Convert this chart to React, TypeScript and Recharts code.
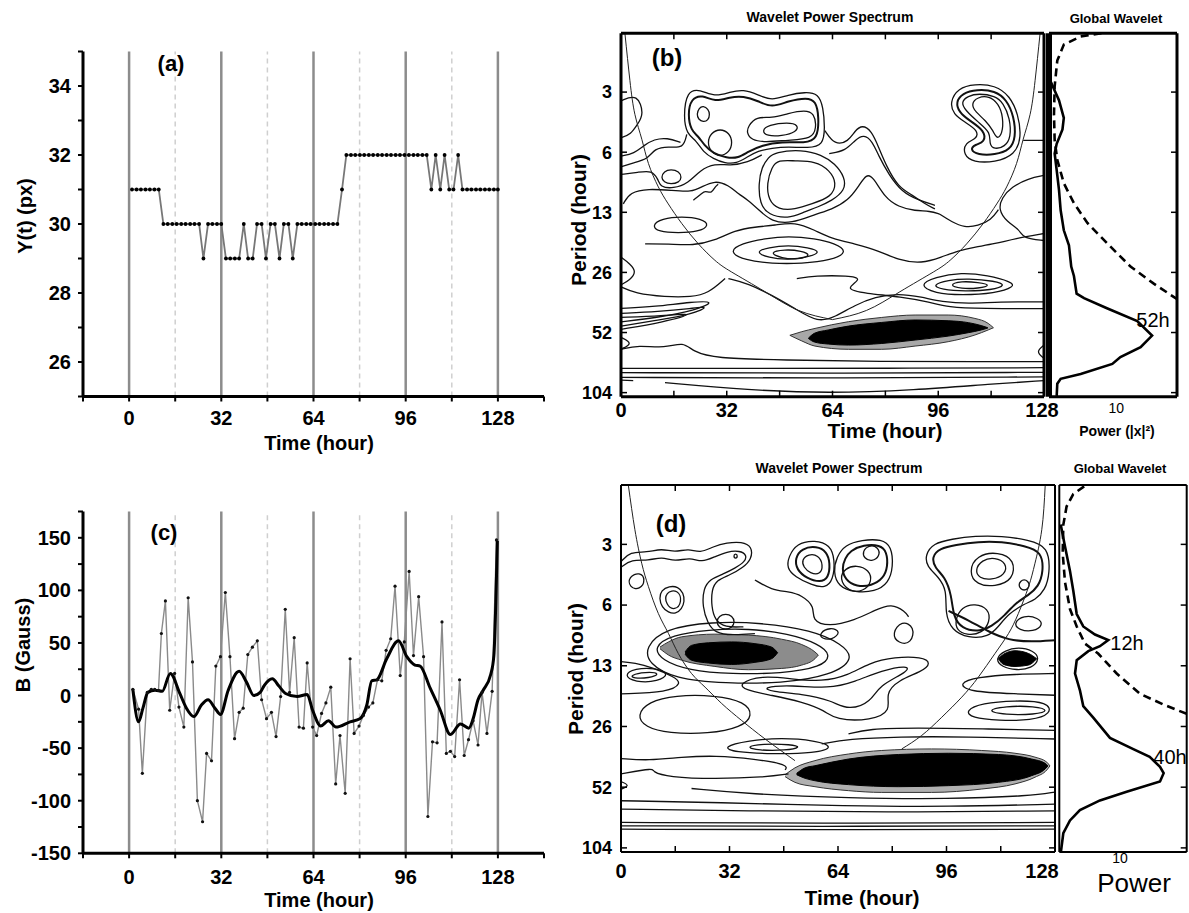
import React from 'react';
import { ComposedChart, Line, Area, XAxis, YAxis, ReferenceLine } from 'recharts';

type Pt = [number, number];
type Band = [number, number, number];

// ---------- (a) position series ----------
const A_TIME = [1, 2.6, 4.1, 5.7, 7.2, 8.8, 10.3, 11.9, 13.4, 15, 16.5, 18.1, 19.6, 21.2, 22.7, 24.3, 25.8, 27.4, 28.9, 30.5, 32, 33.6, 35.1, 36.7, 38.2, 39.8, 41.3, 42.9, 44.4, 46, 47.5, 49.1, 50.6, 52.2, 53.7, 55.3, 56.8, 58.4, 59.9, 61.5, 63, 64.6, 66.1, 67.7, 69.2, 70.8, 72.3, 73.9, 75.4, 77, 78.5, 80.1, 81.6, 83.2, 84.7, 86.3, 87.8, 89.4, 90.9, 92.5, 94, 95.6, 97.1, 98.7, 100.2, 101.8, 103.3, 104.9, 106.4, 108, 109.5, 111.1, 112.6, 114.2, 115.7, 117.3, 118.8, 120.4, 121.9, 123.5, 125, 126.6, 128];
const A_Y = [31, 31, 31, 31, 31, 31, 31, 30, 30, 30, 30, 30, 30, 30, 30, 30, 29, 30, 30, 30, 30, 29, 29, 29, 29, 30, 29, 29, 30, 30, 29, 30, 30, 29, 30, 30, 29, 30, 30, 30, 30, 30, 30, 30, 30, 30, 30, 31, 32, 32, 32, 32, 32, 32, 32, 32, 32, 32, 32, 32, 32, 32, 32, 32, 32, 32, 32, 31, 32, 31, 32, 31, 31, 32, 31, 31, 31, 31, 31, 31, 31, 31, 31];
const A_Y_TICKS = [25, 26, 27, 28, 29, 30, 31, 32, 33, 34, 35];
const A_Y_LABELS = [26, 28, 30, 32, 34];

// ---------- (c) magnetic field series ----------
const C_TIME = [1.3, 3.3, 4.6, 6.3, 7.7, 8.9, 10.2, 11.2, 12.6, 14.1, 15.8, 17.3, 19, 20.5, 22, 23.7, 25.5, 26.9, 28.6, 30.1, 31.7, 33.4, 35, 36.6, 38.2, 39.6, 41.2, 42.8, 44.5, 46, 47.7, 49.4, 51, 52.6, 54.2, 55.7, 57.3, 59, 60.5, 61.8, 63.7, 65.1, 66.8, 68.3, 70, 71.7, 73.2, 75, 76.7, 78.1, 79.8, 81.3, 83.1, 84.6, 86.2, 87.7, 89.2, 90.8, 92.3, 94.1, 95.5, 97.2, 98.7, 100.5, 102.2, 103.7, 105.3, 106.9, 108.6, 110.1, 111.5, 113, 114.7, 116.3, 117.8, 119.4, 121.1, 122.5, 124.2, 126, 127.5];
const C_B = [6, -13, -74, 3, 6, 6, 5, 59, 90, -14, 21, -11, -30, 93, 32, -100, -120, -55, -62, 28, 37, 98, 37, -41, -16, -12, 39, 46, 52, -4, -22, -16, -39, -1, 82, 3, 55, -30, -31, 31, -30, -38, -17, -7, 8, -84, -38, -93, 35, -36, -29, -19, -11, -7, 15, 14, 43, 54, 104, 19, 51, 118, 38, 94, 37, -115, -44, -45, 70, -55, -53, -58, 15, -57, -42, -24, -47, 3, -36, 4, 148];
const C_SMOOTH_TIME = [1.3, 3.3, 4.8, 6.5, 9, 11.5, 14.3, 17.6, 19.9, 22.5, 25.1, 27.4, 29.8, 31.7, 34.4, 38.2, 40.7, 43.3, 45.5, 47, 49.7, 52, 54.3, 58.3, 61.8, 63.7, 66.5, 69.2, 71.8, 76.7, 80.1, 82.5, 84.2, 86, 89.4, 93.5, 96.4, 99.2, 101, 104.5, 108, 111.5, 115, 117.9, 119.4, 121.1, 122.9, 125.5, 126.6, 127.8];
const C_SMOOTH_B = [6, -25, -12, 3, 5, 4, 21, 2, -12, -20, -9, -4, -12, -18, 5, 23, 13, 0, 3, 10, 16, 9, 2, -1, 1, -14, -29, -24, -30, -25, -22, -9, 14, 15, 35, 52, 37, 29, 28, 7, -14, -37, -27, -31, -22, -4, 5, 20, 38, 147];
const C_Y_TICKS = [-150, -125, -100, -75, -50, -25, 0, 25, 50, 75, 100, 125, 150, 175];
const C_Y_LABELS = [-150, -100, -50, 0, 50, 100, 150];

const TIME_TICKS = [-16, 0, 16, 32, 48, 64, 80, 96, 112, 128, 144];
const TIME_LABELS = [0, 32, 64, 96, 128];
const SOLID_GRID = [0, 32, 64, 96, 128];
const DASH_GRID = [16, 48, 80, 112];

// ---------- wavelet axes ----------
const PERIOD_TICKS = [3.25, 6.5, 13, 26, 52, 104];
const PERIOD_LABELS = ['3', '6', '13', '26', '52', '104'];
const PERIOD_DOMAIN: [number, number] = [1.65, 109];
const WAVE_TIME_LABELS = [0, 32, 64, 96, 128];
const WAVE_TIME_MINOR = [16, 32, 48, 64, 80, 96, 112];

// ---------- (b) contours [time, period] ----------
const B_C1: Pt[] = [[19.9, 3.2], [23.9, 3.15], [28.4, 3.44], [33, 3.25], [37, 3.15], [41.5, 3.35], [45.6, 3.6], [50.6, 3.35], [55.7, 3.25], [59.7, 3.3], [61.2, 3.87], [61.7, 4.9], [61.2, 6], [56.7, 6.2], [50.6, 6.1], [45.6, 6.2], [41.5, 6.4], [38, 6.9], [35, 7.4], [31.5, 7.4], [27.9, 7], [24.9, 6.5], [22.9, 5.7], [19.9, 5.27], [18.9, 4.34]];
const B_C2: Pt[] = [[21.2, 3.5], [24.6, 3.35], [28.4, 3.65], [33, 3.44], [37, 3.4], [41.5, 3.6], [45.6, 3.9], [50.6, 3.6], [56.2, 3.46], [59, 3.6], [59.9, 4.34], [59.5, 5.6], [55.7, 5.85], [48.6, 5.75], [42.6, 6], [38.5, 6.45], [35.5, 6.95], [32, 6.95], [27.9, 6.6], [25.2, 6], [23.4, 5.4], [21.2, 5.07], [20.2, 4.2]];
const B_C3: Pt[] = [[22.9, 4.2], [23.6, 3.9], [24.9, 3.8], [26.4, 3.95], [26.9, 4.2], [26.4, 4.5], [24.9, 4.6], [23.4, 4.45]];
const B_C4: Pt[] = [[26.1, 5.8], [27.2, 5.2], [30, 4.95], [32.8, 5.2], [33.8, 5.8], [32.8, 6.5], [30, 6.85], [27.2, 6.5]];
const B_C5: Pt[] = [[38.5, 4.8], [41, 4.3], [45.6, 4.4], [50.6, 4.15], [55.7, 4], [58.5, 4.15], [59.2, 4.9], [57.7, 5.6], [50.6, 5.65], [43.6, 5.8], [39.5, 5.65], [38, 5.2]];
const B_C6: Pt[] = [[42.6, 5.07], [44.6, 4.75], [50.6, 4.6], [53.7, 4.75], [53.2, 5.15], [48.6, 5.4], [44.1, 5.4]];
const B_C7: Pt[] = [[99.5, 3.65], [102, 3.1], [107, 2.96], [113.2, 3], [117.7, 3.4], [120.2, 4.2], [121.2, 5.48], [119.2, 6.7], [113.2, 7.3], [106.6, 7.3], [103.6, 6.7], [104.1, 5.8], [107.6, 5.6], [108.1, 5.07], [104.1, 4.6], [100.6, 4.2]];
const B_C8: Pt[] = [[101.3, 3.65], [103.3, 3.3], [107.6, 3.15], [113.2, 3.2], [116.7, 3.55], [118.9, 4.3], [119.5, 5.48], [117.7, 6.35], [113.2, 6.7], [107.9, 6.7], [105.6, 6.3], [107.1, 5.95], [110.1, 5.8], [110.1, 5.07], [105.3, 4.5], [102.3, 4.1]];
const B_C9: Pt[] = [[102.9, 3.65], [104.9, 3.4], [108.3, 3.3], [113.2, 3.4], [115.7, 3.68], [117.7, 4.4], [118, 5.48], [116.2, 6.1], [112.9, 6.3], [111.4, 5.92], [111.9, 5.17], [108.1, 4.6], [104.1, 4]];
const B_C10: Pt[] = [[105.9, 3.72], [107.9, 3.44], [111.4, 3.4], [114.2, 3.7], [115.7, 4.34], [115.4, 5.3], [113.7, 5.6], [112.7, 5.1], [110.3, 4.5], [107.3, 4.1]];
const B_BLOB1: Pt[] = [[46.6, 6.5], [44.6, 6.9], [42.6, 7.7], [41.6, 9.3], [42, 11.8], [44.6, 13.4], [50.6, 14], [55.2, 13], [59.7, 12.2], [63.7, 11.4], [67.8, 10.1], [67.8, 8.7], [64.7, 7.4], [60.7, 6.7], [54.7, 6.3]];
const B_BLOB2: Pt[] = [[47.6, 7.1], [45.6, 7.7], [44.1, 9.3], [44.6, 11.3], [47.6, 12.6], [52.6, 12.6], [57.7, 11.8], [63.7, 10.9], [65.3, 9.3], [63.2, 8], [58.7, 7.2], [52.6, 7.2]];
const B_OVAL1: Pt[] = [[12.1, 8.7], [13, 8.1], [15.1, 7.9], [17.6, 8.1], [18.4, 8.7], [17.6, 9.2], [15.1, 9.4], [13, 9.2]];
const B_OVAL2: Pt[] = [[9.3, 15.1], [12.3, 14], [18.4, 13.6], [24.4, 14], [26.9, 15.1], [23.4, 16.3], [17.3, 16.5], [11.3, 16.3]];
const B_EYE1: Pt[] = [[32.5, 20.5], [36.5, 18.6], [43.6, 17.6], [50.6, 17.1], [58.7, 17.6], [64.7, 18.6], [68.8, 20.5], [63.7, 22.6], [54.7, 23.5], [45.6, 23.5], [37.5, 22.6]];
const B_EYE2: Pt[] = [[40.5, 20.5], [44.6, 19.5], [50.6, 19], [56.7, 19.5], [60.7, 20.5], [56.7, 21.8], [50.6, 22.5], [44.6, 22]];
const B_EYE3: Pt[] = [[44.6, 20.7], [49.6, 19.9], [54.7, 20.3], [57.7, 21.3], [53.7, 22.4], [48.6, 22.1]];
const B_EYE4: Pt[] = [[90, 30.1], [95, 27.4], [103, 26], [111, 26.9], [118.2, 29], [119.2, 30.7], [113.2, 33.1], [103, 33.8], [95, 33.1]];
const B_EYE5: Pt[] = [[94, 30.1], [99, 28.4], [105, 27.9], [113.2, 28.7], [116.7, 30.1], [112.2, 31.9], [104.1, 32.3], [97, 31.7]];
const B_EYE6: Pt[] = [[99, 30.1], [103, 28.7], [108.1, 29.2], [112.2, 30.1], [108.1, 31.3], [103, 31.4]];

const B_LA: Pt[] = [[0, 7.7], [3.7, 7.36], [8.3, 7], [10.1, 6.24], [14.3, 6.07], [18.9, 6.24], [19.9, 5.29]];
const B_LB: Pt[] = [[0, 8.4], [5.2, 8.2], [9.3, 8], [11.3, 8.9], [11.8, 9.7], [15.8, 9.9], [20.4, 9.3], [23.9, 8], [28.4, 7.4], [33, 7.6], [38.5, 7.3], [42.6, 6.7]];
const B_LD: Pt[] = [[0.7, 11.8], [2.7, 10.3], [8.3, 9.9], [15.3, 10.1], [21.4, 10.3], [24.4, 9.7], [28.4, 9], [32.5, 9.5], [35.5, 10.5], [38.5, 11.3], [41.6, 12.6], [45.6, 14.5], [51.6, 14.8], [58.7, 13.3], [63.7, 12.6], [68.8, 11.3], [71.8, 9.7], [74.3, 8.3], [76.4, 8.7], [79.9, 11], [83.9, 12.2], [89, 12.8], [93.5, 12.8], [96.5, 13.3]];
const B_PEAK: Pt[] = [[61.7, 5.07], [64.7, 6], [68.8, 5.75], [70.8, 5.07], [73, 4.74], [75.8, 5.07], [77.9, 6.1], [80.4, 7.7], [83.9, 9.7], [87.9, 10.6], [92, 11.8], [95, 12.5]];
const B_PEAK2: Pt[] = [[63, 6.6], [68, 6.4], [71, 5.6], [73.5, 5.3], [76, 5.7], [78, 6.8], [81, 8.4], [85, 10.3], [90, 11.3], [95, 12]];
const B_M1: Pt[] = [[7.3, 18.7], [14.3, 18.7], [21.9, 19.1], [28.4, 18], [34.5, 16], [40.5, 15.4], [46.6, 15.1], [52.6, 14.5], [58.7, 16], [63.7, 17.6], [70.8, 18.7], [77.9, 20.2], [83.9, 22.6], [91, 23.5], [97, 21.8], [102.1, 20.2], [107.1, 19.4], [113.2, 18.7], [119.2, 17.6], [128, 16.6]];
const B_M2: Pt[] = [[32.5, 27.9], [38.5, 29.5], [45.6, 33.8], [52.6, 39.4], [59.7, 46.4], [64.7, 43.5], [70.8, 37.9], [76.9, 34.5], [83.9, 33.1], [91, 34.5], [97, 36.5], [105.1, 37.3], [114.2, 36.5], [128, 36.5]];
const B_M3: Pt[] = [[53.2, 27.9], [58.7, 27], [68.8, 27], [73.3, 27.9], [67.3, 31.6], [74, 33.1], [84.9, 34.5], [93, 36.5], [99, 38.9], [109.1, 39.5], [128, 39.5]];
const B_M4: Pt[] = [[0, 30.7], [4.2, 33.1], [13.3, 34.5], [21.4, 34.5], [26.4, 33.1], [31.5, 27.9]];
const B_EDGE1: Pt[] = [[0, 21.8], [2.7, 23.5], [4.7, 25.8], [2.7, 28.4], [0, 30]];
const B_EDGE4: Pt[] = [[0, 3.6], [5, 3.3], [7, 4.2], [5, 4.7], [3, 5.3], [0, 5.5]];
const B_EDGE5: Pt[] = [[0, 6.8], [4, 6.6], [7, 6], [10, 5.6], [14, 5.5], [18, 5.8]];
const B_T1: Pt[] = [[0, 39.4], [10.3, 38.6], [21.4, 36.5], [28.9, 36.2], [22.4, 40.3], [11.3, 43.7], [0, 46]];
const B_T2: Pt[] = [[0, 41.7], [11.3, 40.9], [21.4, 39.4], [27, 38.3], [21.4, 42.1], [11.3, 45.1], [0, 48.3]];
const B_T3: Pt[] = [[0, 43.7], [12.3, 43], [23.4, 41.3], [12.3, 46.4], [0, 50.1]];
const B_BOT1: Pt[] = [[0, 63.1], [5.2, 60.1], [13.3, 62.4], [18.9, 57.8], [21.9, 64.9], [28.4, 70], [48.6, 71.4], [78.9, 72.8], [109.1, 72.8], [128, 72.8]];
const B_BOT2: Pt[] = [[0, 78.6], [38.5, 78.6], [78.9, 78.6], [128, 78]];
const B_BOT3: Pt[] = [[0, 82.6], [60.7, 83.3], [128, 82.3]];
const B_BOT4: Pt[] = [[0, 87.2], [60.7, 88.2], [128, 86.7]];
const B_BOT5: Pt[] = [[13.3, 92.7], [38.5, 101], [62.7, 104.8], [89, 101], [112.2, 94.1], [128, 90.6]];
const B_BOT6: Pt[] = [[0, 90], [3.7, 90.6]];
const B_EDGE2: Pt[] = [[0, 55], [3.7, 59], [0, 63]];
const B_EDGE3: Pt[] = [[128, 60.1], [125.5, 64.9], [128, 70]];
const B_SQUIGGLE: Pt[] = [[21.9, 11.3], [24.4, 10.5], [25.4, 10.1], [27.4, 10.5], [28.4, 9.7], [29.4, 9.4]];
const B_RIGHT1: Pt[] = [[121.7, 5.67], [128, 5.67]];
const B_RIGHT2: Pt[] = [[128, 8.5], [123.3, 8.8], [118.2, 9.7], [115.2, 11], [114.2, 12.6], [116.7, 14.5], [120.7, 15.9], [121.7, 17.6], [128, 18]];
const B_RIGHT3: Pt[] = [[96.5, 13.3], [100, 14.5], [104, 15.5], [108, 15.2], [112, 14.2], [114.2, 12.6]];
const B_COI_L: Pt[] = [[1.2, 1.66], [2.7, 2.85], [4.2, 4.2], [6.3, 5.6], [8.3, 7.4], [11.3, 9.7], [14.3, 11.8], [18.4, 14.8], [23.4, 18.7], [28.4, 22.6], [33.5, 25.9], [43.6, 32.5], [53.7, 40.3], [64, 44.8]];
const B_COI_R: Pt[] = [[126.8, 1.66], [125.3, 2.85], [123.8, 4.2], [121.7, 5.6], [119.7, 7.4], [116.7, 9.7], [113.7, 11.8], [109.6, 14.8], [104.6, 18.7], [99.6, 22.6], [94.5, 25.9], [84.4, 32.5], [74.3, 40.3], [64, 44.8]];
const B_HALO: Band[] = [[51.1, 53.7, 53.7], [54.7, 51.5, 57.3], [58.7, 49.6, 60.8], [68.8, 45.9, 63.1], [78.9, 43.7, 63.1], [89, 42.5, 60.8], [99, 42.5, 57.8], [107.1, 44.2, 53.5], [111.1, 46.8, 50.5], [112.7, 49.2, 49.2]];
const B_CORE: Band[] = [[56.7, 55.5, 55.7], [58.5, 52.5, 58], [62.7, 50.5, 59.4], [68.8, 48.3, 60.1], [78.9, 46.3, 59], [89, 45, 56.7], [99, 45.4, 54.2], [105.1, 46.4, 52.1], [109, 48, 50.5], [111, 49.2, 49.4]];

// ---------- (d) contours [time, period] ----------
const D_L1: Pt[] = [[28.1, 7.86], [28.9, 7.35], [30.9, 7.17], [32.8, 7.35], [33.6, 7.86], [32.8, 8.4], [30.9, 8.6], [28.9, 8.4]];
const D_L2: Pt[] = [[13, 5.58], [16.9, 5.43], [18.1, 6.26], [15.9, 6.95], [13.2, 6.5]];
const D_L2B: Pt[] = [[11, 5.37], [17.4, 5.1], [19.4, 6.26], [16.4, 7.43], [11.5, 6.76]];
const D_L3: Pt[] = [[2.2, 4.7], [5.6, 4.44], [7.3, 4.88], [5.6, 5.47], [2.4, 5.32]];
const D_DOT: Pt[] = [[33.1, 3.71], [33.8, 3.6], [34.5, 3.71], [33.8, 3.85]];
const D_R1: Pt[] = [[9.5, 10.5], [14.9, 9.16], [25.8, 8.6], [37.6, 8.49], [49.4, 9], [58.2, 10.1], [62.1, 11.5], [59.2, 13.2], [47.4, 14.2], [32.6, 14.3], [19.9, 13.7], [12, 12.2]];
const D_R2: Pt[] = [[7.1, 10.5], [13, 8.49], [26.7, 7.86], [41.5, 7.95], [56.2, 8.65], [65.1, 10.1], [69, 12], [62.1, 14.5], [47.4, 15.9], [30.7, 15.9], [15.9, 15.1], [8.1, 12.7]];
const D_O1: Pt[] = [[0.7, 14.5], [4.1, 13.4], [10, 13.3], [14.5, 14.2], [11, 15.6], [4.1, 15.7]];
const D_O2: Pt[] = [[2.7, 14.5], [7.1, 13.9], [12, 14.2], [8.1, 15], [3.6, 15]];
const D_BIGOVAL: Pt[] = [[4.6, 22.9], [8.1, 19.6], [15.9, 18.2], [27.7, 18.2], [36.6, 19.6], [39, 22.9], [35.6, 26.2], [25.8, 28.3], [14, 28.1], [7.1, 26.2]];
const D_MB1: Pt[] = [[34.6, 15.9], [41.5, 14.5], [50.3, 15.1], [59.2, 15.6], [67.1, 14.5], [73, 12.6], [80.8, 11.75], [88.7, 11.75], [91.6, 12.6], [88.7, 13.9], [81.8, 15.3], [77.9, 17.9], [79.8, 21.7], [73.9, 24.3], [63.1, 24.1], [60.2, 21.7], [53.3, 19.6], [44.4, 18.2], [36.6, 17.2]];
const D_MB2: Pt[] = [[41.5, 16.6], [50.3, 16.2], [61.2, 16.9], [69, 15.6], [76.9, 13.7], [84.8, 12.9], [84.8, 13.9], [75.9, 16.3], [73.9, 19.6], [67.1, 21.7], [62.1, 19.3], [53.3, 17.9], [44.4, 17.5]];
const D_TM1: Pt[] = [[49.4, 3.74], [51.8, 3.21], [57.2, 3.09], [61.7, 3.27], [63.1, 3.88], [62.6, 4.88], [60.2, 5.37], [56.2, 5.17], [51.3, 4.7], [48.9, 4.27]];
const D_TM2: Pt[] = [[51.3, 3.81], [53.3, 3.4], [57.7, 3.31], [60.7, 3.53], [61.7, 4.03], [61.2, 4.79], [58.7, 5.02], [54.8, 4.79], [51.8, 4.35]];
const D_TM3: Pt[] = [[53.3, 3.88], [55.3, 3.62], [58.2, 3.67], [59.7, 4.11], [58.7, 4.61], [55.8, 4.52], [53.8, 4.22]];
const D_TM4: Pt[] = [[63.6, 3.74], [66.1, 3.27], [71, 3.09], [76.9, 3.06], [79.8, 3.33], [80.3, 4.19], [78.9, 5.07], [74.9, 5.58], [69, 5.63], [64.1, 5.27], [62.6, 4.44]];
const D_TM5: Pt[] = [[66.1, 3.81], [67.6, 3.49], [71.5, 3.27], [76.4, 3.27], [78.4, 3.53], [78.7, 4.19], [77.4, 4.79], [73.9, 5.22], [69.5, 5.27], [66.1, 4.88], [65.1, 4.27]];
const D_TM6: Pt[] = [[71.2, 3.53], [73, 3.27], [75.9, 3.33], [76.4, 3.74], [73.9, 3.96], [71.7, 3.81]];
const D_TM7: Pt[] = [[64.3, 4.79], [66.1, 4.27], [69.5, 4.11], [73.2, 4.35], [74.1, 4.97], [71.5, 5.58], [67.1, 5.58]];
const D_SO1: Pt[] = [[58.4, 9], [61.7, 8.33], [65.1, 8.82], [62.1, 9.71], [59.2, 9.52]];
const D_SO2: Pt[] = [[79.8, 9], [82.8, 7.72], [86.7, 8.33], [85.7, 10.1], [81.8, 10.1]];
const D_RT1: Pt[] = [[89.7, 3.67], [92.1, 3.21], [97.5, 3.06], [104.4, 2.95], [112.3, 2.95], [120.2, 3.09], [126.1, 3.33], [126.5, 4.52], [125.1, 5.47], [122.1, 6.14], [119.2, 6.38], [114.3, 7.15], [111.3, 8.33], [108.4, 9.34], [102.5, 9.5], [97.5, 8.65], [95.6, 7.15], [96.1, 5.47], [93.6, 4.7], [90.2, 4.19]];
const D_RT2: Pt[] = [[91.6, 3.74], [94.1, 3.4], [98.5, 3.27], [105.4, 3.15], [112.3, 3.15], [119.2, 3.31], [124.1, 3.53], [124.6, 4.44], [123.1, 5.27], [120.2, 5.8], [116.2, 6.38], [113.3, 7.29], [109.3, 8.33], [105.4, 8.82], [100.5, 8.49], [98, 7.43], [97.5, 5.8], [95.5, 4.7], [92.6, 4.27]];
const D_RT3: Pt[] = [[104.4, 4.35], [106.4, 3.88], [110.3, 3.76], [113.8, 4.03], [113.3, 4.61], [109.3, 4.88], [105.6, 4.79]];
const D_RT4: Pt[] = [[102.5, 4.44], [104.9, 3.67], [111.3, 3.53], [116.2, 3.88], [115.7, 4.88], [110.3, 5.27], [104.9, 5.17]];
const D_RT5: Pt[] = [[116.7, 5.17], [118.9, 4.74], [121.1, 5.17], [118.9, 5.63]];
const D_RT6: Pt[] = [[98.5, 7.72], [100.5, 6.63], [104.4, 6.38], [108.4, 6.76], [108.9, 7.86], [106.4, 9], [101.9, 9.16], [99, 8.65]];
const D_RT7: Pt[] = [[115.7, 8.02], [118.7, 7.29], [123.1, 7.5], [124.6, 8.18], [121.6, 8.82], [117.4, 8.65]];
const D_E2RING: Pt[] = [[110.3, 12], [113.3, 10.9], [117.2, 10.5], [121.6, 10.9], [123.6, 12], [121.1, 13.4], [116.7, 13.7], [112.3, 13.2]];
const D_RM1: Pt[] = [[101.5, 21.7], [106.4, 19.9], [116.2, 19.3], [126.1, 19.6], [127, 22.5], [121.1, 24.3], [111.3, 24.3], [103.4, 23.6]];
const D_RM2: Pt[] = [[107.4, 21.7], [113.3, 20.6], [122.1, 20.6], [126.5, 21.7], [122.1, 22.7], [113.3, 22.8]];
const D_EYE1: Pt[] = [[29.7, 32.9], [37.6, 30.5], [47.4, 29.6], [57.2, 30.5], [63.1, 32.9], [57.2, 35.3], [44.4, 35.6], [33.6, 34.9]];
const D_EYE2: Pt[] = [[36.6, 32.9], [41.5, 31.7], [50.3, 31.9], [53.3, 32.9], [48.6, 34.2], [40.5, 34.2]];

const D_W1: Pt[] = [[0, 3.96], [2.7, 3.53], [7.6, 3.57], [12, 3.4], [15.9, 3.57], [19.9, 3.4], [23.3, 3.6], [27.2, 3.33], [31.2, 3.19], [35.6, 3.15], [38.7, 3.33], [38.5, 3.85], [36.1, 4.22], [32.2, 4.61], [28.2, 4.88], [26.7, 5.47], [26.7, 6.63], [27.7, 7.72], [30.7, 8.4], [36.1, 8.33]];
const D_W2: Pt[] = [[0, 4.22], [3.1, 3.85], [8.1, 3.92], [12, 3.74], [15.9, 3.96], [20.4, 3.77], [23.8, 4], [27.7, 3.74], [31.2, 3.53], [35.1, 3.49], [37.1, 3.67], [36.6, 3.96], [33.6, 4.27], [30.2, 4.56], [26.3, 4.83], [24.3, 5.37], [24, 6.63], [25.6, 8.02], [27.7, 8.9], [32.6, 9.2], [39.5, 9]];
const D_EDGEOVAL: Pt[] = [[0, 12.4], [4.1, 12.6], [9, 13.2], [15.9, 14.8], [17.9, 15.9], [14, 17.6], [0, 17.9]];
const D_MW1: Pt[] = [[39.5, 4.88], [44.4, 5.47], [49.4, 5.58], [53.3, 5.8], [57.2, 6.63], [56.2, 7.72], [61.2, 8.33], [69, 7.72], [74.9, 6.89], [79.8, 6.38], [83.8, 7], [84.8, 7.43]];
const D_RTHICK: Pt[] = [[96.6, 6.95], [102.5, 7.72], [108.4, 8.82], [114.3, 9.71], [121.1, 9.9], [128, 9.71]];
const D_RLINE: Pt[] = [[128, 14.2], [116.2, 14.3], [104.9, 14.8], [99.5, 15.9], [102.5, 17.5], [116.2, 17.9], [128, 18.2]];
const D_LW2: Pt[] = [[67.1, 28.3], [73, 26.7], [86.7, 26.4], [106.4, 26.7], [128, 27.2]];
const D_LW3: Pt[] = [[59.2, 31.7], [67.1, 30], [81.8, 29.2], [101.5, 29.2], [128, 30]];
const D_LW4: Pt[] = [[0, 37.5], [8.1, 38.4], [17.9, 36.9], [27.7, 36.2], [39.5, 37.7], [49.4, 40.2], [48.4, 42.7]];
const D_LW5: Pt[] = [[0, 44.7], [10, 41.7], [9, 43.5], [14, 46.4], [27.7, 47.4], [42.5, 46.4], [49.4, 44.7]];
const D_LW6: Pt[] = [[0, 48.8], [2.7, 51], [0, 53.2]];
const D_BB1: Pt[] = [[20.8, 52.8], [37.6, 56.2], [67.1, 58.9], [96.6, 59.6], [121.1, 57.4], [128, 55]];
const D_BB2: Pt[] = [[0, 60.7], [27.7, 61.9], [67.1, 64.5], [96.6, 65], [128, 63.1]];
const D_BB3: Pt[] = [[0, 66.8], [37.6, 68.1], [76.9, 69.4], [128, 68.1]];
const D_BB4: Pt[] = [[0, 77.8], [57.2, 78.6], [128, 77.8]];
const D_BB5: Pt[] = [[0, 80.8], [57.2, 81.5], [128, 80.8]];
const D_BB6: Pt[] = [[0, 84], [57.2, 84.6], [128, 84]];
const D_COI_L: Pt[] = [[2.2, 1.67], [4.1, 2.75], [6.1, 4.03], [8.1, 5.27], [11, 7.15], [14, 8.99], [16.9, 11.3], [20.8, 14.2], [24.8, 16.6], [29.7, 20], [35.6, 24.3], [42.5, 30], [51.3, 38.4]];
const D_COI_R: Pt[] = [[125.1, 1.67], [124.1, 2.75], [122.1, 4.03], [120.2, 5.27], [117.2, 7.15], [114.3, 8.99], [110.3, 11.3], [105.4, 14.8], [100.5, 18.6], [94.6, 23.4], [88.7, 28.8], [82.8, 33.6]];
const D_HALO1: Band[] = [[11.5, 10.5, 10.7], [14, 9.9, 11.5], [17.9, 9.34, 12.2], [27.7, 9.06, 13.1], [37.6, 9.16, 13.6], [47.4, 9.6, 13.4], [53.3, 10.2, 12.9], [57.2, 11.1, 12], [58.2, 11.5, 11.5]];
const D_CORE1: Band[] = [[18.9, 11.1, 11.4], [20.8, 10.3, 12.2], [25.8, 10, 12.6], [32.6, 9.9, 12.8], [39.5, 10.1, 12.5], [44.4, 10.5, 12], [46.2, 11.2, 11.2]];
const D_CORE2: Band[] = [[111.3, 12, 12], [112.8, 11.4, 12.8], [116.2, 10.95, 13.1], [120.2, 11.3, 12.9], [122.6, 12, 12]];
const D_HALO3: Band[] = [[48.4, 45.1, 46.1], [51.3, 41.7, 49.2], [57.2, 38.4, 51.7], [67.1, 35.6, 54.1], [76.9, 34.2, 55.2], [91.6, 33.6, 55.2], [106.4, 34.2, 53.1], [116.2, 35.3, 50.1], [122.1, 36.9, 46.4], [125.6, 39.1, 42.7], [126.5, 40.8, 40.8]];
const D_CORE3: Band[] = [[51.8, 44.4, 45.1], [54.3, 41.7, 47], [57.2, 40.7, 48.3], [67.1, 37.7, 50.5], [81.8, 35.8, 51.7], [96.6, 35.3, 51.1], [111.3, 35.8, 49.2], [121.1, 37.7, 45.6], [125.1, 39.6, 42.2], [125.9, 40.8, 40.8]];

// ---------- global wavelet spectra [power, period] ----------
const GB_POWER: Pt[] = [[0.3, 2.9], [0.65, 3.09], [1.48, 3.57], [2.2, 4.38], [2, 5], [1.14, 5.9], [0.84, 6.6], [1.14, 8], [1.48, 10], [1.73, 12.7], [2.2, 16], [2.96, 19], [3.3, 24.3], [3.7, 27.1], [4.1, 33.2], [5.2, 35], [8.6, 39.3], [13.1, 45.6], [15.3, 53.9], [13.6, 61.6], [10.6, 69], [9.4, 74.7], [4.7, 83.8], [1.73, 88.7], [1.23, 93.9], [1.14, 108]];
const GB_SIGNIF: Pt[] = [[11.6, 1.57], [8.64, 1.63], [4.7, 1.71], [2.2, 1.88], [1.23, 2.26], [0.84, 3.04], [0.74, 4.21], [0.84, 5.66], [1.23, 7.1], [2.2, 9.3], [3.7, 11.7], [5.7, 14.7], [8.64, 18.6], [12.1, 24.3], [15.5, 29.5], [18, 33.6], [19.5, 36.3]];
const GD_POWER: Pt[] = [[0.23, 2.59], [0.94, 3.33], [1.76, 4.4], [2.3, 5.5], [2.87, 7.2], [3.95, 8.3], [5.88, 9.1], [8.07, 9.7], [6.7, 10.4], [4.78, 11], [2.87, 12.2], [2.59, 14.2], [3.4, 17.2], [3.95, 20.6], [5.6, 23.5], [8.35, 29.6], [12.2, 33.7], [14.9, 36.8], [16.6, 41.2], [17.2, 44.3], [16.6, 48.7], [11.1, 54.8], [6.7, 60.5], [3.4, 67.6], [1.76, 76], [0.66, 88], [0.23, 111]];
const GD_SIGNIF: Pt[] = [[21, 1.5], [13.3, 1.56], [5.06, 1.6], [2.3, 1.83], [1.2, 2.11], [0.66, 2.6], [0.56, 3.6], [0.94, 5], [1.76, 6.8], [2.87, 8.3], [4.23, 10.1], [6.4, 11.3], [9.46, 14.2], [13.3, 17.9], [17.1, 20.2], [21, 22.5]];

const B_CLOSED = [B_C1, B_C3, B_C4, B_C5, B_C6, B_C7, B_C9, B_C10, B_BLOB1, B_BLOB2, B_OVAL1, B_OVAL2, B_EYE1, B_EYE2, B_EYE3, B_EYE4, B_EYE5, B_EYE6];
const B_CLOSED_BOLD = [B_C2, B_C8];
const B_OPEN = [B_LA, B_LB, B_LD, B_PEAK, B_PEAK2, B_M1, B_M2, B_M3, B_M4, B_EDGE1, B_EDGE4, B_EDGE5, B_T1, B_T2, B_T3, B_BOT1, B_BOT2, B_BOT3, B_BOT4, B_BOT5, B_BOT6, B_EDGE2, B_EDGE3, B_SQUIGGLE, B_RIGHT1, B_RIGHT2, B_RIGHT3];
const D_CLOSED = [D_L1, D_L2, D_L2B, D_L3, D_DOT, D_R1, D_R2, D_O1, D_O2, D_BIGOVAL, D_MB1, D_MB2, D_TM1, D_TM3, D_TM4, D_TM6, D_TM7, D_SO1, D_SO2, D_RT1, D_RT3, D_RT4, D_RT5, D_RT6, D_RT7, D_E2RING, D_RM1, D_RM2, D_EYE1, D_EYE2];
const D_CLOSED_BOLD = [D_TM2, D_TM5, D_RT2];
const D_OPEN = [D_W1, D_W2, D_EDGEOVAL, D_MW1, D_RLINE, D_LW2, D_LW3, D_LW4, D_LW5, D_LW6, D_BB1, D_BB2, D_BB3, D_BB4, D_BB5, D_BB6];
const D_OPEN_BOLD = [D_RTHICK];

const FONT = '"Liberation Sans", Arial, sans-serif';
const toPts = (a: Pt[]) => a.map(([t, p]) => ({ t, p }));
const toPow = (a: Pt[]) => a.map(([pw, p]) => ({ pw, p }));
const toBand = (a: Band[]) => a.map(([t, lo, hi]) => ({ t, r: [lo, hi] }));
const fmtPeriod = (v: number) => PERIOD_LABELS[PERIOD_TICKS.indexOf(v)] ?? '';
const fmtTime = (v: number) => (TIME_LABELS.includes(v) ? String(v) : '');
const noLabel = () => <g />;

const contours = (list: Pt[][], closed: boolean, key: string, width = 1.3) =>
  list.map((c, i) => (
    <Line key={key + i} data={toPts(c)} dataKey="p" type={closed ? 'basisClosed' : 'basis'} stroke="#111" strokeWidth={width}
      dot={false} activeDot={false} isAnimationActive={false} />
  ));

// time labels under a wavelet map; the last one sits a little inside the frame, as in the figure
const waveTimeTick = (lastShift: number) => (props: any) => {
  const { x, y, payload } = props;
  const dx = payload.value === 128 ? lastShift : 0;
  return (
    <text x={x + dx} y={y} dy="0.71em" textAnchor="middle" fontSize={20} fontWeight={700} fill="#000">{payload.value}</text>
  );
};

function TimeSeriesPanel({ top, height, mTop, mBottom, yDomain, yTicks, yLabels, tickMargin, children }: any) {
  const black = { stroke: '#000', strokeWidth: 3 };
  return (
    <div style={{ position: 'absolute', left: 0, top }}>
      <ComposedChart width={560} height={height} margin={{ top: mTop, right: 16, bottom: mBottom, left: 0 }}>
        <XAxis dataKey="t" type="number" domain={[-16, 144]} ticks={TIME_TICKS} interval={0} tickFormatter={fmtTime}
          axisLine={black} tickLine={{ stroke: '#000', strokeWidth: 2 }} tickSize={5} tickMargin={tickMargin} height={40}
          tick={{ fontSize: 20, fontWeight: 700, fill: '#000' }} allowDataOverflow />
        <YAxis type="number" domain={yDomain} ticks={yTicks} interval={0} width={83}
          tickFormatter={(v: number) => (yLabels.includes(v) ? String(v) : '')}
          axisLine={black} tickLine={{ stroke: '#000', strokeWidth: 2 }} tickSize={5} tickMargin={7}
          tick={{ fontSize: 20, fontWeight: 700, fill: '#000' }} allowDataOverflow />
        {SOLID_GRID.map((x) => <ReferenceLine key={'s' + x} x={x} stroke="#8c8c8c" strokeWidth={2.5} />)}
        {DASH_GRID.map((x) => <ReferenceLine key={'d' + x} x={x} stroke="#cfcfcf" strokeWidth={1.5} strokeDasharray="5 4" />)}
        {children}
      </ComposedChart>
    </div>
  );
}

function WaveletMap({ left, top, width, height, margin, frame, xTickMargin, lastShift, closed, closedBold, open, openBold, coi, halos, cores }: any) {
  const frameLine = { stroke: '#000', strokeWidth: frame };
  const inner = { stroke: '#000', strokeWidth: 1.5 };
  const periodAxis = { type: 'number' as const, scale: 'log' as const, domain: PERIOD_DOMAIN, reversed: true, allowDataOverflow: true, ticks: PERIOD_TICKS, interval: 0 as const };
  const timeAxis = { dataKey: 't', type: 'number' as const, domain: [0, 128], allowDataOverflow: true, interval: 0 as const };
  return (
    <div style={{ position: 'absolute', left, top }}>
      <ComposedChart width={width} height={height} margin={margin}>
        <XAxis {...timeAxis} ticks={WAVE_TIME_LABELS} tickLine={false} tickSize={0} tickMargin={xTickMargin} axisLine={frameLine}
          height={30} tick={waveTimeTick(lastShift)} />
        <XAxis {...timeAxis} xAxisId="inB" ticks={WAVE_TIME_MINOR} mirror tick={noLabel} tickSize={6} tickLine={inner} axisLine={false} />
        <XAxis {...timeAxis} xAxisId="top" orientation="top" ticks={WAVE_TIME_MINOR} mirror tick={noLabel} tickSize={6} tickLine={inner} axisLine={frameLine} />
        <YAxis {...periodAxis} tickFormatter={fmtPeriod} width={61} tickLine={false} tickSize={0} tickMargin={9} axisLine={frameLine}
          tick={{ fontSize: 18, fontWeight: 700, fill: '#000' }} />
        <YAxis {...periodAxis} yAxisId="inL" mirror tick={noLabel} tickSize={6} tickLine={inner} axisLine={false} />
        <YAxis {...periodAxis} yAxisId="right" orientation="right" mirror tick={noLabel} tickSize={6} tickLine={inner} axisLine={frameLine} />
        {contours(closed, true, 'c')}
        {contours(closedBold, true, 'cb', 2)}
        {contours(open, false, 'o')}
        {contours(openBold, false, 'ob', 2)}
        {coi.map((c: Pt[], i: number) => (
          <Line key={'coi' + i} data={toPts(c)} dataKey="p" type="natural" stroke="#222" strokeWidth={1}
            dot={false} activeDot={false} isAnimationActive={false} />
        ))}
        {halos.map((h: { band: Band[]; fill: string }, i: number) => (
          <Area key={'h' + i} data={toBand(h.band)} dataKey="r" type="monotone" fill={h.fill} fillOpacity={1} stroke="#333" strokeWidth={1}
            dot={false} activeDot={false} isAnimationActive={false} />
        ))}
        {cores.map((b: Band[], i: number) => (
          <Area key={'k' + i} data={toBand(b)} dataKey="r" type="monotone" fill="#000" fillOpacity={1} stroke="#000" strokeWidth={1}
            dot={false} activeDot={false} isAnimationActive={false} />
        ))}
      </ComposedChart>
    </div>
  );
}

function GlobalPanel({ left, top, width, height, margin, frame, leftFrame, xMax, tickMargin, power, signif }: any) {
  const periodAxis = { type: 'number' as const, scale: 'log' as const, domain: PERIOD_DOMAIN, reversed: true, allowDataOverflow: true, ticks: PERIOD_TICKS, interval: 0 as const };
  return (
    <div style={{ position: 'absolute', left, top }}>
      <ComposedChart width={width} height={height} margin={margin}>
        <XAxis dataKey="pw" type="number" domain={[0, xMax]} ticks={[10]} interval={0} tickLine={false} tickSize={0} tickMargin={tickMargin}
          axisLine={{ stroke: '#000', strokeWidth: frame }} height={30} tick={{ fontSize: 14, fill: '#000' }} allowDataOverflow />
        <XAxis xAxisId="top" orientation="top" dataKey="pw" type="number" domain={[0, xMax]} ticks={[10]} mirror tick={noLabel} tickLine={false}
          axisLine={{ stroke: '#000', strokeWidth: frame }} allowDataOverflow />
        <YAxis {...periodAxis} mirror tick={noLabel} tickLine={false} axisLine={{ stroke: '#000', strokeWidth: leftFrame }} />
        <YAxis {...periodAxis} yAxisId="right" orientation="right" mirror tick={noLabel} tickSize={6} tickLine={{ stroke: '#000', strokeWidth: 1.5 }}
          axisLine={{ stroke: '#000', strokeWidth: frame }} />
        <Line data={toPow(signif)} dataKey="p" type="linear" stroke="#000" strokeWidth={2.6} strokeDasharray="8 5"
          dot={false} activeDot={false} isAnimationActive={false} />
        <Line data={toPow(power)} dataKey="p" type="linear" stroke="#000" strokeWidth={2.6}
          dot={false} activeDot={false} isAnimationActive={false} />
      </ComposedChart>
    </div>
  );
}

const TEXTS = [
  { s: '(a)', x: 171, y: 64, f: 22, w: 700 },
  { s: 'Y(t) (px)', x: 25, y: 216, f: 20, w: 700, r: true },
  { s: 'Time (hour)', x: 319, y: 443, f: 20, w: 700 },
  { s: '(c)', x: 164, y: 533, f: 22, w: 700 },
  { s: 'B (Gauss)', x: 23, y: 645, f: 20, w: 700, r: true },
  { s: 'Time (hour)', x: 319, y: 900, f: 20, w: 700 },
  { s: 'Wavelet Power Spectrum', x: 830, y: 17, f: 14, w: 700 },
  { s: 'Global Wavelet', x: 1116, y: 18, f: 13, w: 700 },
  { s: '(b)', x: 667, y: 58, f: 24, w: 700 },
  { s: 'Period (hour)', x: 578, y: 220, f: 21, w: 700, r: true },
  { s: 'Time (hour)', x: 885, y: 430, f: 21, w: 700 },
  { s: 'Power (|x|²)', x: 1117, y: 431, f: 14, w: 700 },
  { s: '52h', x: 1153, y: 320, f: 20, w: 400 },
  { s: 'Wavelet Power Spectrum', x: 839, y: 468, f: 14, w: 700 },
  { s: 'Global Wavelet', x: 1120, y: 468, f: 13, w: 700 },
  { s: '(d)', x: 671, y: 524, f: 24, w: 700 },
  { s: 'Period (hour)', x: 575, y: 669, f: 21, w: 700, r: true },
  { s: 'Time (hour)', x: 862, y: 897, f: 21, w: 700 },
  { s: '12h', x: 1127, y: 643, f: 20, w: 400 },
  { s: '40h', x: 1170, y: 757, f: 20, w: 400 },
  { s: 'Power', x: 1134, y: 883, f: 26, w: 400 },
];

export default function App() {
  const dataA = A_TIME.map((t, i) => ({ t, y: A_Y[i] }));
  const dataC = C_TIME.map((t, i) => ({ t, y: C_B[i] }));
  const smoothC = C_SMOOTH_TIME.map((t, i) => ({ t, y: C_SMOOTH_B[i] }));
  return (
    <div style={{ position: 'absolute', left: 0, top: 0, width: 1189, height: 913, background: '#fff', fontFamily: FONT, overflow: 'hidden' }}>
      <TimeSeriesPanel top={0} height={460} mTop={51.5} mBottom={23.5} yDomain={[25, 35]} yTicks={A_Y_TICKS} yLabels={A_Y_LABELS} tickMargin={9}>
        <Line data={dataA} dataKey="y" type="linear" stroke="#777" strokeWidth={1.8}
          dot={{ r: 1.9, fill: '#000', stroke: '#000', strokeWidth: 0 }} activeDot={false} isAnimationActive={false} />
      </TimeSeriesPanel>
      <TimeSeriesPanel top={460} height={453} mTop={51.5} mBottom={19.7} yDomain={[-150, 175]} yTicks={C_Y_TICKS} yLabels={C_Y_LABELS} tickMargin={11}>
        <Line data={dataC} dataKey="y" type="linear" stroke="#8a8a8a" strokeWidth={1.4}
          dot={{ r: 1.6, fill: '#111', stroke: '#111', strokeWidth: 0 }} activeDot={false} isAnimationActive={false} />
        <Line data={smoothC} dataKey="y" type="monotone" stroke="#000" strokeWidth={3}
          dot={false} activeDot={false} isAnimationActive={false} />
      </TimeSeriesPanel>

      <WaveletMap left={560} top={0} width={504} height={460} margin={{ top: 33.3, right: 20, bottom: 33.3, left: 0 }} frame={3} xTickMargin={6} lastShift={-2}
        closed={B_CLOSED} closedBold={B_CLOSED_BOLD} open={B_OPEN} openBold={[]} coi={[B_COI_L, B_COI_R]}
        halos={[{ band: B_HALO, fill: '#a8a8a8' }]} cores={[B_CORE]} />
      <GlobalPanel left={1040} top={0} width={149} height={460} margin={{ top: 33.3, right: 12, bottom: 33.3, left: 9 }}
        frame={3} leftFrame={6} xMax={19} tickMargin={6} power={GB_POWER} signif={GB_SIGNIF} />

      <WaveletMap left={560} top={460} width={515} height={453} margin={{ top: 25, right: 20, bottom: 31, left: 0 }} frame={2} xTickMargin={12} lastShift={-13}
        closed={D_CLOSED} closedBold={D_CLOSED_BOLD} open={D_OPEN} openBold={D_OPEN_BOLD} coi={[D_COI_L, D_COI_R]}
        halos={[{ band: D_HALO1, fill: '#8c8c8c' }, { band: D_HALO3, fill: '#b0b0b0' }]} cores={[D_CORE1, D_CORE2, D_CORE3]} />
      <GlobalPanel left={1050} top={460} width={139} height={453} margin={{ top: 25, right: 2.3, bottom: 31, left: 9.3 }}
        frame={2} leftFrame={2} xMax={21} tickMargin={1} power={GD_POWER} signif={GD_SIGNIF} />

      {TEXTS.map((t, i) => (
        <div key={i} style={{
          position: 'absolute', left: t.x, top: t.y, fontSize: t.f, fontWeight: t.w, lineHeight: 1, whiteSpace: 'nowrap', color: '#000',
          transform: `translate(-50%, -50%)${t.r ? ' rotate(-90deg)' : ''}`,
        }}>{t.s}</div>
      ))}
    </div>
  );
}
